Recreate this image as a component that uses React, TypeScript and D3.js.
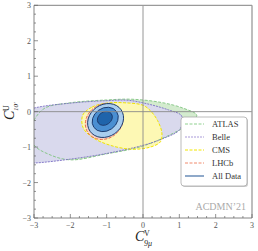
import React from "react";
import * as d3 from "d3";

const ticks = [-3, -2, -1, 0, 1, 2, 3];
const minorTicks = d3.range(-3, 3.001, 0.25);

// contour outlines (C9 , C10')
const atlas: [number, number][] = [
  [-3.1, -0.55], [-3, -0.24], [-2.7, 0.1], [-2, 0.25], [-1, 0.33], [-0.3, 0.35],
  [0.5, 0.26], [1.1, 0.1], [1.48, -0.1], [1.3, -0.32], [1.0, -0.52], [0, -0.97],
  [-1, -1.19], [-2, -1.36], [-2.6, -1.2], [-3, -0.94],
];
const belle: [number, number][] = [
  [-3.5, -0.1], [-3, 0.1], [-2, 0.24], [-1, 0.31], [-0.4, 0.32], [0.2, 0.2],
  [0.7, 0.05], [1.05, -0.1], [1.08, -0.27], [1.0, -0.52], [0.5, -0.78],
  [0, -0.95], [-1, -1.18], [-2, -1.34], [-3, -1.45], [-3.5, -1.45],
];
const cms: [number, number][] = [
  [-1.66, -0.1], [-1.4, 0.13], [-1.0, 0.24], [-0.5, 0.25], [0, 0.18], [0.2, 0.03],
  [0.4, -0.25], [0.52, -0.6], [0.48, -0.85], [0.2, -1.0], [-0.3, -1.06],
  [-0.9, -0.95], [-1.4, -0.72], [-1.65, -0.45],
];
// LHCb and global fit ellipses: [cx, cy, a, b, angle]
const lhcb = [-1.07, -0.28, 0.54, 0.48, 35];
const allData = [
  [-1.03, -0.25, 0.52, 0.45, 35],
  [-1.04, -0.22, 0.38, 0.32, 35],
  [-1.05, -0.19, 0.22, 0.18, 35],
];
const allColors = ["#a9cdee", "#4a8fd2", "#1f64ab"];

const legendNames = ["ATLAS", "Belle", "CMS", "LHCb", "All Data"];
const legendColors = ["#8fd08f", "#a99ad8", "#f2e600", "#f08a6c", "#8fa9c9"];
const legendDash = ["3,1.5", "2,1", "3,1.5", "3,1.5", ""];

export default function App() {
  const x = d3.scaleLinear().domain([-3, 3]).range([34, 252]);
  const y = d3.scaleLinear().domain([-3, 3]).range([218, 5.3]);
  const line = d3
    .line<[number, number]>()
    .x((d) => x(d[0]))
    .y((d) => y(d[1]))
    .curve(d3.curveCatmullRomClosed.alpha(0.5));

  const ell = (e: number[], props: any, key: any) => (
    <ellipse
      key={key}
      cx={x(e[0])}
      cy={y(e[1])}
      rx={e[2] * (x(1) - x(0))}
      ry={e[3] * (y(0) - y(1))}
      transform={`rotate(${-e[4]} ${x(e[0])} ${y(e[1])})`}
      {...props}
    />
  );

  const font = "Liberation Serif, DejaVu Serif, serif";

  return (
    <svg width={258} height={251} style={{ position: "absolute", left: 0, top: 0 }} fontFamily={font}>
      <defs>
        <clipPath id="plot">
          <rect x={x(-3)} y={y(3)} width={x(3) - x(-3)} height={y(-3) - y(3)} />
        </clipPath>
      </defs>
      <rect width={258} height={251} fill="#fff" />

      <g clipPath="url(#plot)">
        <path d={line(atlas)!} fill="#d3ebce" />
        <path d={line(belle)!} fill="#d9d9ed" />
        <path d={line(cms)!} fill="#fdf8b4" />
        {ell(lhcb, { fill: "#f7d2c6" }, "lf")}
        <path d={line(atlas)!} fill="none" stroke="#7fc47f" strokeWidth={0.9} strokeDasharray="3,1.5" />
        <path d={line(belle)!} fill="none" stroke="#7a6ec4" strokeWidth={0.9} strokeDasharray="2,1" />
        <path d={line(cms)!} fill="none" stroke="#f0e400" strokeWidth={1} strokeDasharray="3,1.5" />
        {ell(lhcb, { fill: "none", stroke: "#e8664a", strokeWidth: 0.9, strokeDasharray: "3,1.5" }, "ls")}
        {allData.map((e, i) =>
          ell(e, { fill: allColors[i], stroke: "#1b3a6e", strokeWidth: 0.9 }, "a" + i)
        )}
      </g>

      {/* zero lines and frame */}
      <line x1={x(0)} x2={x(0)} y1={y(3)} y2={y(-3)} stroke="#8a8a8a" strokeWidth={0.9} />
      <line x1={x(-3)} x2={x(3)} y1={y(0)} y2={y(0)} stroke="#8a8a8a" strokeWidth={0.9} />
      <line x1={x(-3)} x2={x(3)} y1={y(3)} y2={y(3)} stroke="#9a9a9a" strokeWidth={1.3} />
      <line x1={x(3)} x2={x(3)} y1={y(3)} y2={y(-3)} stroke="#9a9a9a" strokeWidth={1.3} />
      <line x1={x(-3)} x2={x(-3)} y1={y(3)} y2={y(-3)} stroke="#777" strokeWidth={0.9} />
      <line x1={x(-3)} x2={x(3)} y1={y(-3)} y2={y(-3)} stroke="#777" strokeWidth={0.9} />

      {/* ticks */}
      {minorTicks.map((t, i) => {
        const major = Math.abs(t - Math.round(t)) < 1e-6;
        const len = major ? 4 : 2;
        return (
          <g key={i} stroke="#666" strokeWidth={0.7}>
            <line x1={x(t)} x2={x(t)} y1={y(-3)} y2={y(-3) - len} />
            <line x1={x(-3)} x2={x(-3) + len} y1={y(t)} y2={y(t)} />
          </g>
        );
      })}
      {ticks.map((t) => (
        <g key={t} fontSize={8} fill="#555">
          <text x={x(t)} y={y(-3) + 10} textAnchor="middle">
            {t < 0 ? "\u2212" + -t : t}
          </text>
          <text x={x(-3) - 3} y={y(t) + 3} textAnchor="end">
            {t < 0 ? "\u2212" + -t : t}
          </text>
        </g>
      ))}

      {/* axis titles */}
      <g fill="#222">
        <text x={135} y={241} fontSize={14} fontStyle="italic">C</text>
        <text x={144} y={236} fontSize={8}>V</text>
        <text x={144} y={246} fontSize={8} fontStyle="italic">9μ</text>
        <g transform="translate(13.5,120) rotate(-90)">
          <text x={0} y={0} fontSize={14} fontStyle="italic">C</text>
          <text x={9} y={-5} fontSize={8}>U</text>
          <text x={9} y={4} fontSize={7} fontStyle="italic">10′</text>
        </g>
      </g>

      {/* legend */}
      <rect x={182} y={118} width={66} height={69} rx={3} fill="#999" opacity={0.5} />
      <rect x={181} y={117} width={66} height={69} rx={3} fill="#fff" stroke="#aaa" strokeWidth={0.8} />
      {legendNames.map((n, i) => {
        const ly = 124 + i * 13;
        return (
          <g key={n}>
            <line
              x1={185}
              x2={204}
              y1={ly}
              y2={ly}
              stroke={legendColors[i]}
              strokeWidth={i === 4 ? 2 : 1}
              strokeDasharray={legendDash[i]}
            />
            <text x={212} y={ly + 3} fontSize={8.5} fill="#333">
              {n}
            </text>
          </g>
        );
      })}

      <text x={246} y={210} fontSize={10} fill="#aaa" textAnchor="end">
        ACDMN’21
      </text>
    </svg>
  );
}
